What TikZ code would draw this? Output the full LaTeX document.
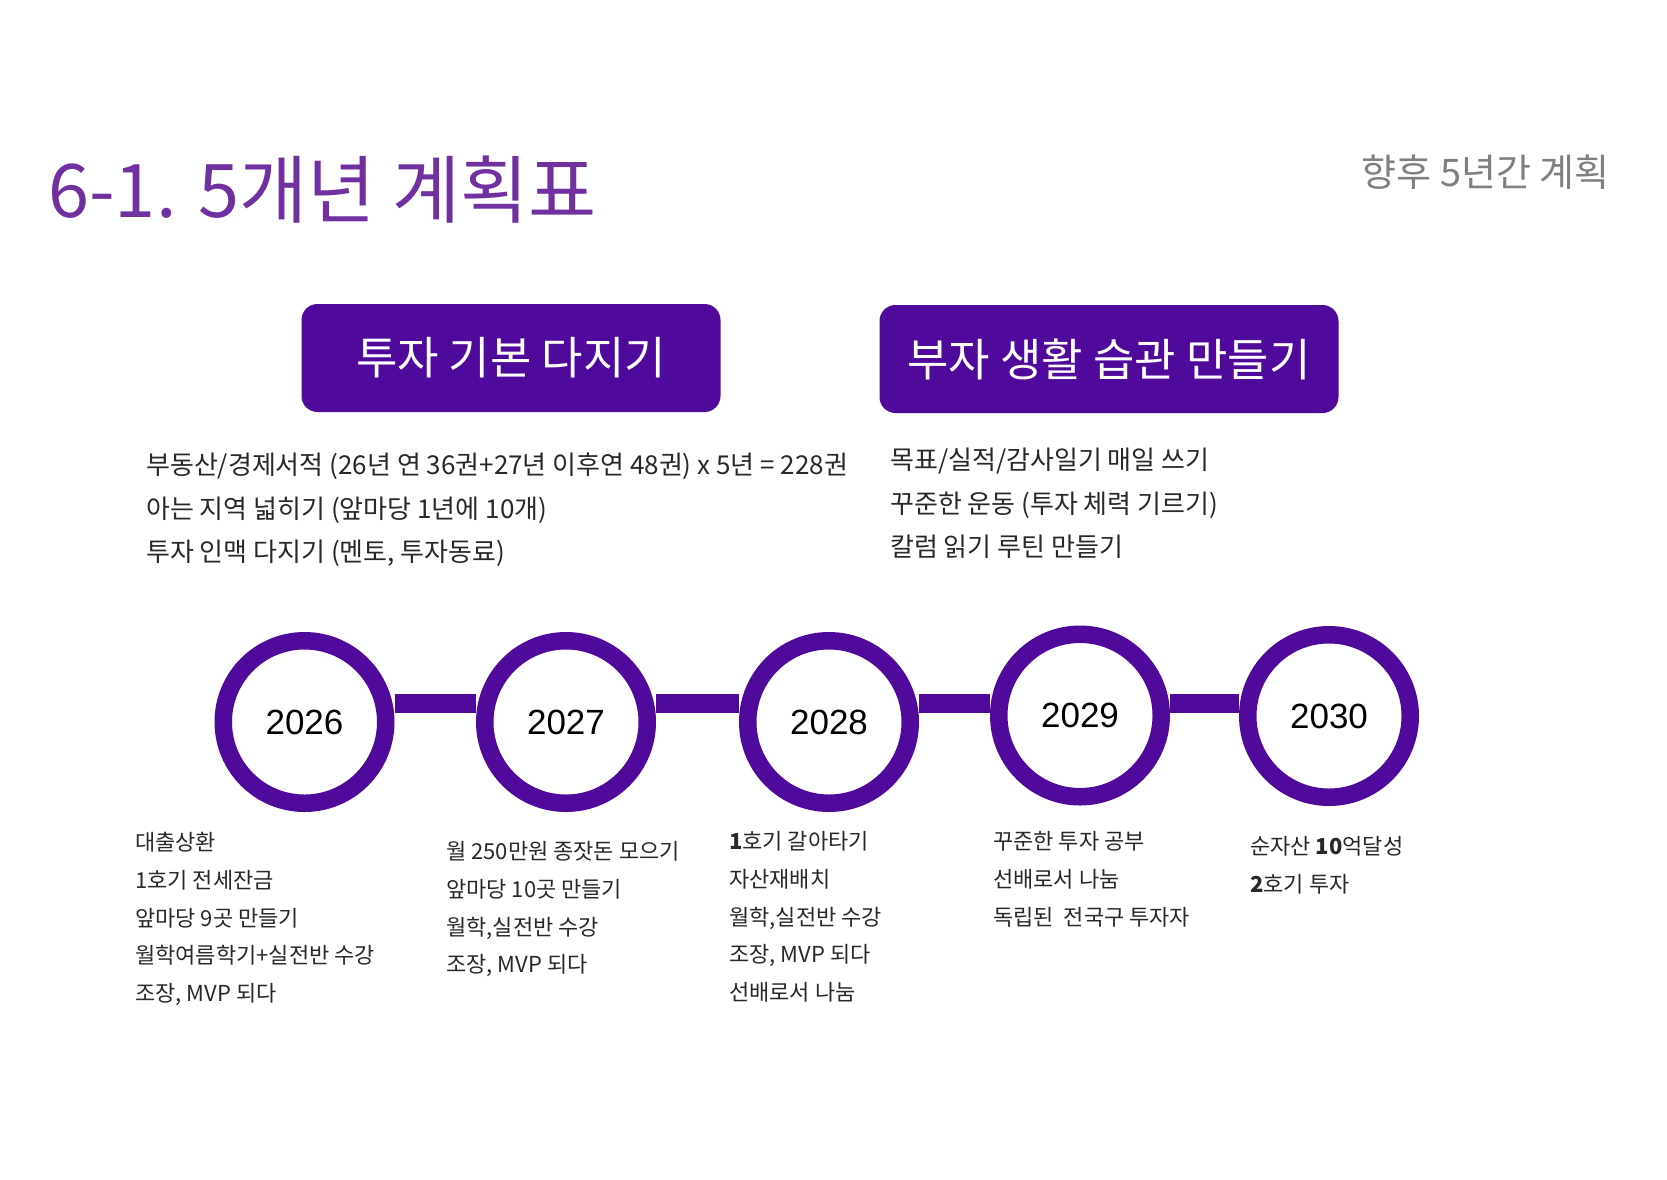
\documentclass[tikz,border=0pt]{standalone}
\usepackage{fontspec}
\setmainfont{Noto Sans CJK KR}
\newfontfamily\yearfont{Liberation Sans}
\definecolor{titlepurple}{RGB}{112,48,160}
\definecolor{planpurple}{RGB}{80,10,155}
\definecolor{subgray}{RGB}{127,127,127}
\definecolor{listgray}{RGB}{40,40,40}
\begin{document}
\begin{tikzpicture}[x=1pt,y=-1pt,
  planbox/.style={fill=planpurple,rounded corners=16pt,minimum height=108pt,inner sep=0pt,text=white,font=\fontsize{45}{52}\selectfont},
  yearring/.style={circle,draw=planpurple,line width=17.5pt,fill=white,minimum size=162.5pt,inner sep=0pt,font=\yearfont\fontsize{35}{40}\selectfont},
  yearlink/.style={draw=planpurple,line width=19pt},
  toplist/.style={anchor=north west,align=left,inner sep=0pt,text=listgray,font=\fontsize{26}{43.5}\selectfont},
  yearlist/.style={anchor=north west,align=left,inner sep=0pt,text=listgray,font=\fontsize{22}{37.8}\selectfont}]
 \useasboundingbox (0,0) rectangle (1667,1179);
 % title
 \node[anchor=west,inner sep=0pt,text=titlepurple,font=\fontsize{74}{84}\selectfont] (title) at (48,190) {6-1. 5개년 계획표};
 \node[anchor=east,inner sep=0pt,text=subgray,font=\fontsize{38}{42}\selectfont] (subtitle) at (1610,172) {향후 5년간 계획};
 % two goals
 \node[planbox,minimum width=419pt] (basics) at (511,358) {투자 기본 다지기};
 \node[planbox,minimum width=459pt] (habits) at (1109,359) {부자 생활 습관 만들기};
 \node[toplist] (basicslist) at (146,453) {부동산/경제서적 (26년 연 36권+27년 이후연 48권) x 5년 = 228권\\아는 지역 넓히기 (앞마당 1년에 10개)\\투자 인맥 다지기 (멘토, 투자동료)};
 \node[toplist] (habitslist) at (890,448) {목표/실적/감사일기 매일 쓰기\\꾸준한 운동 (투자 체력 기르기)\\칼럼 읽기 루틴 만들기};
 % timeline
 \node[yearring] (c2026) at (304.5,722) {2026};
 \node[yearring] (c2027) at (566,722) {2027};
 \node[yearring] (c2028) at (829,722) {2028};
 \node[yearring] (c2029) at (1080,715.5) {2029};
 \node[yearring] (c2030) at (1329,716) {2030};
 \coordinate (bar) at (0,703.5);
 \draw[yearlink] (c2026.east |- bar) -- (c2027.west |- bar);
 \draw[yearlink] (c2027.east |- bar) -- (c2028.west |- bar);
 \draw[yearlink] (c2028.east |- bar) -- (c2029.west |- bar);
 \draw[yearlink] (c2029.east |- bar) -- (c2030.west |- bar);
 % what happens each year
 \node[yearlist] (l2026) at (135,832) {대출상환\\1호기 전세잔금\\앞마당 9곳 만들기\\월학여름학기+실전반 수강\\조장, MVP 되다};
 \node[yearlist] (l2027) at (446,841) {월 250만원 종잣돈 모으기\\앞마당 10곳 만들기\\월학,실전반 수강\\조장, MVP 되다};
 \node[yearlist] (l2028) at (729,831) {\textbf{1}호기 갈아타기\\자산재배치\\월학,실전반 수강\\조장, MVP 되다\\선배로서 나눔};
 \node[yearlist] (l2029) at (993,831) {꾸준한 투자 공부\\선배로서 나눔\\독립된\ \ 전국구 투자자};
 \node[yearlist] (l2030) at (1250,836) {순자산 \textbf{10}억달성\\\textbf{2}호기 투자};
\end{tikzpicture}
\end{document}
